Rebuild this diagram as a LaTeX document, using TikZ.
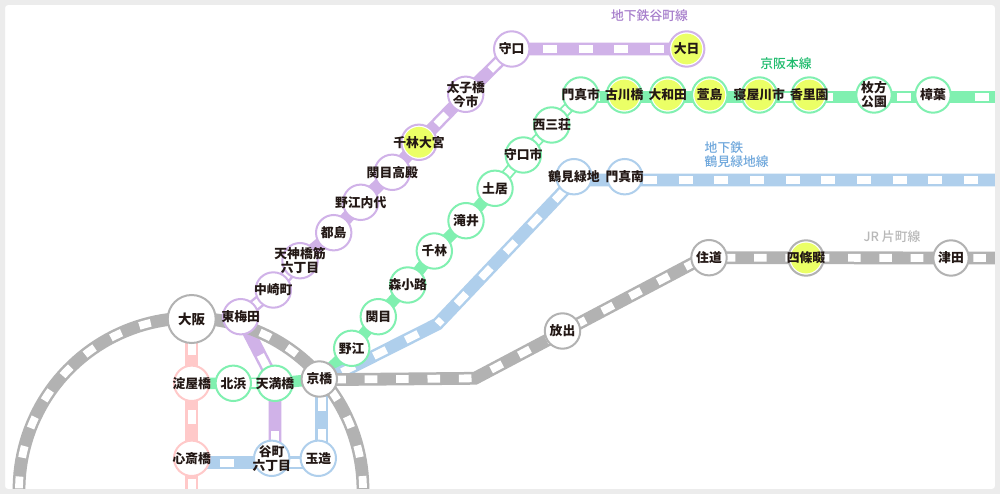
\documentclass[tikz,border=0pt]{standalone}
\usepackage{fontspec}
\setmainfont{Noto Sans CJK JP}
\newfontfamily\labfont{Noto Sans CJK JP Medium}
\usetikzlibrary{backgrounds,calc}
\definecolor{cgreen}{HTML}{80F0B0}
\definecolor{cpurple}{HTML}{D0B2E8}
\definecolor{cblue}{HTML}{AFCFEC}
\definecolor{cgray}{HTML}{B2B2B2}
\definecolor{cred}{HTML}{FFC9C9}
\definecolor{cyellow}{HTML}{EBFF66}
\definecolor{cframe}{HTML}{ECECEC}
\definecolor{ink}{HTML}{231815}
\definecolor{tpurple}{HTML}{A67DCB}
\definecolor{tgreen}{HTML}{1DBB6C}
\definecolor{tblue}{HTML}{70A8DC}
\definecolor{tgray}{HTML}{B8B8B8}
\newcommand{\nm}[1]{\makebox[0pt]{#1}}
\tikzset{
 x=1pt,y=-1pt,
 st/.style={circle,draw=#1,line width=2pt,fill=white,minimum size=35.4pt,inner sep=0pt,align=center,font=\bfseries\fontsize{12.8}{14}\selectfont,text=ink},
 big/.style={minimum size=48pt,font=\bfseries\fontsize{13.5}{14}\selectfont},
 hl/.style={path picture={\fill[cyellow] (path picture bounding box.center) circle (15.4pt);}},
 band/.style={draw=#1,line width=12.8pt,line join=miter},
 thin band/.style={draw=#1,line width=11.5pt,line join=miter},
 whites/.style n args={3}{draw=white,line width=7.8pt,dash pattern=on #1pt off #2pt,dash phase=#3pt},
 onewhite/.style={draw=white,line width=7.8pt},
 lab/.style={font=\labfont\fontsize{12.8}{14.5}\selectfont,align=left,inner sep=0pt},
}
% one white tie on the connector a--b, centred at the given distance from a
\newcommand{\tie}[3]{\draw[onewhite] ($(#1)!#3pt-7pt!(#2)$) -- ($(#1)!#3pt+7pt!(#2)$);}
\begin{document}
\begin{tikzpicture}
\useasboundingbox (0,0) rectangle (1000,494);
% stations
\node[st=cgray,big] (osaka) at (191.7,319) {\nm{大阪}};
\node[st=cred] (yodoyabashi) at (191.7,383.3) {\nm{淀屋橋}};
\node[st=cgreen] (kitahama) at (233.3,383.3) {\nm{北浜}};
\node[st=cgreen] (tenmabashi) at (275,383.3) {\nm{天満橋}};
\node[st=cgray] (kyobashi) at (319.3,379) {\nm{京橋}};
\node[st=cpurple] (higashiumeda) at (240.7,316.7) {\nm{東梅田}};
\node[st=cpurple] (nakazaki) at (273.3,290) {\nm{中崎町}};
\node[st=cred] (shinsaibashi) at (191.7,458.3) {\nm{心斎橋}};
\node[st=cblue] (tanimachi) at (271.7,458.3) {\nm{谷町}\\\nm{六丁目}};
\node[st=cblue] (tamatsukuri) at (318.3,458.3) {\nm{玉造}};
\node[st=cgreen] (noe) at (351.7,348.3) {\nm{野江}};
\node[st=cgreen] (sekime) at (378.3,316.7) {\nm{関目}};
\node[st=cpurple] (moriguchi) at (511.7,49) {\nm{守口}};
\node[st=cpurple] (taishibashi) at (465.7,94.3) {\nm{太子橋}\\\nm{今市}};
\node[st=cpurple,hl] (senbayashiomiya) at (419,142.3) {\nm{千林大宮}};
\node[st=cpurple] (sekimetakadono) at (392.3,172.3) {\nm{関目高殿}};
\node[st=cpurple] (noeuchindai) at (360.7,202.3) {\nm{野江内代}};
\node[st=cpurple] (miyakojima) at (333.7,232.7) {\nm{都島}};
\node[st=cpurple] (tenjinbashi) at (300,260.7) {\nm{天神橋筋}\\\nm{六丁目}};
\node[st=cpurple,hl] (dainichi) at (686.7,49) {\nm{大日}};
\node[st=cgreen] (kadomashi) at (580.7,95) {\nm{門真市}};
\node[st=cgreen] (nishisanso) at (551.7,125) {\nm{西三荘}};
\node[st=cgreen] (moriguchishi) at (523.3,155) {\nm{守口市}};
\node[st=cgreen] (doi) at (495,188.3) {\nm{土居}};
\node[st=cgreen] (takii) at (466,220.7) {\nm{滝井}};
\node[st=cgreen] (senbayashi) at (434.3,251) {\nm{千林}};
\node[st=cgreen] (morishoji) at (407.7,285) {\nm{森小路}};
\node[st=cgreen,hl] (furukawabashi) at (624.3,95) {\nm{古川橋}};
\node[st=cgreen,hl] (oowada) at (667.7,95) {\nm{大和田}};
\node[st=cgreen,hl] (kayashima) at (709.7,95) {\nm{萱島}};
\node[st=cgreen,hl] (neyagawashi) at (759.3,95) {\nm{寝屋川市}};
\node[st=cgreen,hl] (korien) at (809.3,95) {\nm{香里園}};
\node[st=cgreen] (hirakata) at (874,95) {\nm{枚方}\\\nm{公園}};
\node[st=cgreen] (kusuba) at (933,95) {\nm{樟葉}};
\node[st=cblue] (tsurumi) at (574,176.7) {\nm{鶴見緑地}};
\node[st=cblue] (kadomaminami) at (624.7,176.7) {\nm{門真南}};
\node[st=cgray] (hanaten) at (562.5,331) {\nm{放出}};
\node[st=cgray] (suminodo) at (709,257.7) {\nm{住道}};
\node[st=cgray,hl] (shijonawate) at (806,258) {\nm{四條畷}};
\node[st=cgray] (tsuda) at (951,258) {\nm{津田}};
% line labels
\node[lab,text=tpurple] (lt) at (649.5,16) {地下鉄谷町線};
\node[lab,text=tgreen] (lk) at (786,64) {京阪本線};
\node[lab,text=tblue,anchor=north west] (lb) at (704.5,141) {地下鉄\\鶴見緑地線};
\node[lab,text=tgray] (lj) at (892,237) {JR 片町線};
% free ends and bends
\coordinate (greenE) at (1000,97);
\coordinate (blueE) at (1000,180);
\coordinate (grayE) at (1000,258);
\coordinate (blueBend) at (437.5,324);
\coordinate (grayBend) at (475,378.3);
\coordinate (redS) at (191.7,494);
\coordinate (tmBottom) at (tanimachi.center -| tenmabashi.center);
\begin{scope}[on background layer]
\fill[white] (0,0) rectangle (1000,494);
% green line
\draw[thin band=cgreen] (yodoyabashi.center) -- (kitahama.center) -- (tenmabashi.center) -- (kyobashi.center);
\tie{kitahama}{tenmabashi}{21}
\draw[thin band=cgreen] (kyobashi.center) -- (noe.center) -- (sekime.center) -- (morishoji.center) -- (senbayashi.center) -- (takii.center) -- (doi.center) -- (moriguchishi.center) -- (nishisanso.center) -- (kadomashi.center);
\tie{doi}{moriguchishi}{21.4}
\tie{moriguchishi}{nishisanso}{21.4}
\tie{nishisanso}{kadomashi}{20.3}
\draw[thin band=cgreen] ([yshift=-2pt]kadomashi.center) -- (greenE);
\draw[whites={14}{24.9}{33.9}] ([yshift=-2pt]kadomashi.center) -- (greenE);
% red line
\draw[band=cred] (osaka.center) -- (yodoyabashi.center) -- (shinsaibashi.center) -- (redS);
\draw[whites={14}{20.4}{12.4}] (osaka.center) -- (redS);
% purple line
\draw[band=cpurple] (dainichi.center) -- (moriguchi.center) -- (taishibashi.center) -- (senbayashiomiya.center) -- (sekimetakadono.center) -- (noeuchindai.center) -- (miyakojima.center) -- (tenjinbashi.center) -- (nakazaki.center) -- (higashiumeda.center) -- (tenmabashi.center) -- (tmBottom);
\draw[whites={14}{21.67}{4.37}] (moriguchi.center) -- (dainichi.center);
\tie{moriguchi}{taishibashi}{23}
\tie{taishibashi}{senbayashiomiya}{35}
\tie{tenjinbashi}{nakazaki}{20}
\tie{nakazaki}{higashiumeda}{21}
\tie{higashiumeda}{tenmabashi}{50}
\tie{tenmabashi}{tmBottom}{55}
% blue lines
\draw[band=cblue] (blueE) -- ([yshift=-3.3pt]tsurumi.center) -- (blueBend) -- ([yshift=-4.5pt]kyobashi.center);
\draw[whites={14}{21.67}{2.34}] ([yshift=-3.3pt]tsurumi.center) -- (blueE);
\draw[whites={14}{21.67}{21.67}] ([yshift=-3.3pt]tsurumi.center) -- (blueBend);
\draw[whites={14}{21.67}{14.07}] (blueBend) -- ([yshift=-4.5pt]kyobashi.center);
\draw[band=cblue] ([yshift=-4.4pt]shinsaibashi.center) -- ([yshift=-4.4pt]tanimachi.center) -- ([yshift=-4.4pt]tamatsukuri.center);
\draw[onewhite] (219.7,462.7) -- (233.7,462.7);
\draw[onewhite] (288,462.7) -- (302,462.7);
\draw[band=cblue] ([xshift=3.4pt]tamatsukuri.center) -- ([xshift=2.4pt]kyobashi.center);
\draw[onewhite] (321.7,397) -- (321.7,411);
\draw[onewhite] (321.7,429) -- (321.7,443);
% gray lines
\draw[band=cgray] plot[domain=185:-5,samples=90] ({191+172*cos(\x)},{490-172*sin(\x)});
\draw[whites={11.8}{19.06}{14.16}] plot[domain=185:-5,samples=90] ({191+172*cos(\x)},{490-172*sin(\x)});
\draw[band=cgray] ([yshift=-.7pt]kyobashi.center) -- (grayBend) -- ([yshift=3pt]suminodo.center);
\draw[band=cgray] (suminodo.center) -- (grayE);
\draw[whites={12.6}{18.8}{17.4}] ([yshift=-.7pt]kyobashi.center) -- (grayBend);
\draw[whites={12.6}{18.8}{13.2}] (grayBend) -- ([yshift=3pt]suminodo.center);
\draw[whites={12.6}{18.73}{17.66}] (suminodo.center) -- (grayE);
% frame
\fill[cframe,even odd rule] (0,0) rectangle (1000,494) [rounded corners=3pt] (5,5) rectangle (995,489);
\end{scope}
\end{tikzpicture}
\end{document}
